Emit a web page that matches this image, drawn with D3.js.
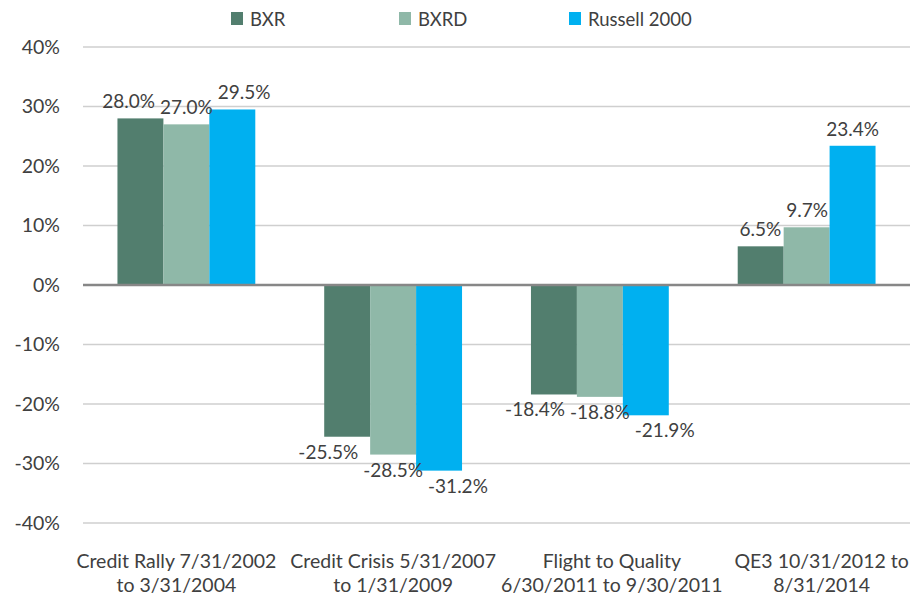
<!DOCTYPE html>
<html>
<head>
<meta charset="utf-8">
<script src="https://cdn.jsdelivr.net/npm/d3@7"></script>
<style>
  body { margin: 0; background: #fff; }
  text { font-family: Lato, "Open Sans", sans-serif; fill: #404040; }
</style>
</head>
<body>
<script>
// periods on the x axis (two lines each)
var categories = [
    ["Credit Rally 7/31/2002", "to 3/31/2004"],
    ["Credit Crisis 5/31/2007", "to 1/31/2009"],
    ["Flight to Quality", "6/30/2011 to 9/30/2011"],
    ["QE3 10/31/2012 to", "8/31/2014"]
];
var seriesNames = ["BXR", "BXRD", "Russell 2000"];
var bxr     = [28.0, -25.5, -18.4, 6.5];
var bxrd    = [27.0, -28.5, -18.8, 9.7];
var russell = [29.5, -31.2, -21.9, 23.4];
var yTicks  = [-40, -30, -20, -10, 0, 10, 20, 30, 40];

var colors = ["#527e6e", "#8fb8a8", "#00b0f0"];
var values = [bxr, bxrd, russell];

var width = 917, height = 597;
var margin = {top: 47, right: 7, bottom: 74, left: 83};

var svg = d3.select("body").append("svg")
    .attr("width", width)
    .attr("height", height);

var x0 = d3.scaleBand()
    .domain(d3.range(categories.length))
    .range([margin.left, width - margin.right]);

var gap = x0.bandwidth() / 3;
var x1 = d3.scaleBand()
    .domain(d3.range(seriesNames.length))
    .range([gap / 2, x0.bandwidth() - gap / 2]);

var y = d3.scaleLinear()
    .domain([-40, 40])
    .range([height - margin.bottom, margin.top]);

// gridlines
svg.append("g")
    .selectAll("line")
    .data(yTicks.filter(function(d){ return d !== 0; }))
    .enter()
    .append("line")
    .attr("x1", margin.left)
    .attr("x2", width - margin.right)
    .attr("y1", function(d){ return y(d); })
    .attr("y2", function(d){ return y(d); })
    .attr("stroke", "#cfcfcf")
    .attr("stroke-width", 1.5);

// y tick labels
svg.append("g")
    .selectAll("text")
    .data(yTicks)
    .enter()
    .append("text")
    .attr("x", 60)
    .attr("y", function(d){ return y(d); })
    .attr("dy", "0.35em")
    .attr("text-anchor", "end")
    .style("font-size", "19.5px")
    .text(function(d){ return d + "%"; });

// bars
var groups = svg.append("g")
    .selectAll("g")
    .data(categories)
    .enter()
    .append("g")
    .attr("transform", function(d, i){ return "translate(" + x0(i) + ",0)"; });

groups.selectAll("rect")
    .data(function(d, i){ return values.map(function(s, j){ return {s: j, v: s[i]}; }); })
    .enter()
    .append("rect")
    .attr("x", function(d){ return x1(d.s); })
    .attr("width", x1.bandwidth())
    .attr("y", function(d){ return d.v >= 0 ? y(d.v) : y(0); })
    .attr("height", function(d){ return Math.abs(y(d.v) - y(0)); })
    .attr("fill", function(d){ return colors[d.s]; });

// zero line
svg.append("line")
    .attr("x1", margin.left)
    .attr("x2", width - margin.right)
    .attr("y1", y(0))
    .attr("y2", y(0))
    .attr("stroke", "#878787")
    .attr("stroke-width", 2.5);

// data labels, pushed apart sideways when they collide (like Excel does)
groups.each(function(d, i){
    var g = d3.select(this);
    var labels = values.map(function(s, j){
        var v = s[i];
        var yy = v >= 0 ? y(v) - 10 : y(v) + 22;
        var t = g.append("text")
            .attr("text-anchor", "middle")
            .style("font-size", "19px")
            .attr("y", yy)
            .text(v.toFixed(1) + "%");
        return {t: t, cx: x1(j) + x1.bandwidth() / 2, w: t.node().getComputedTextLength(), yy: yy};
    });
    for (var k = 0; k < 10; k++) {
        for (var a = 0; a < labels.length - 1; a++) {
            var p = labels[a], q = labels[a + 1];
            var over = (p.cx + p.w / 2 + 5) - (q.cx - q.w / 2);
            if (over > 0 && Math.abs(p.yy - q.yy) < 22) {
                p.cx -= over / 2;
                q.cx += over / 2;
            }
        }
    }
    labels.forEach(function(l){ l.t.attr("x", l.cx); });
});

// category labels (Excel nudges them a little off the band centre)
var catShift = [-10, 0, 12, 15];
var cat = svg.append("g")
    .selectAll("text")
    .data(categories)
    .enter()
    .append("text")
    .attr("text-anchor", "middle")
    .attr("x", function(d, i){ return x0(i) + x0.bandwidth() / 2 + catShift[i]; })
    .attr("y", 568)
    .style("font-size", "19.5px");
cat.selectAll("tspan")
    .data(function(d){ return d; })
    .enter()
    .append("tspan")
    .attr("x", function(){ return d3.select(this.parentNode).attr("x"); })
    .attr("dy", function(d, i){ return i ? 24 : 0; })
    .text(function(d){ return d; });

// legend
var legendX = [231, 399, 569];
var legend = svg.append("g")
    .selectAll("g")
    .data(seriesNames)
    .enter()
    .append("g")
    .attr("transform", function(d, i){ return "translate(" + legendX[i] + ",12)"; });
legend.append("rect")
    .attr("width", 12)
    .attr("height", 13)
    .attr("fill", function(d, i){ return colors[i]; });
legend.append("text")
    .attr("x", 19)
    .attr("y", 13.5)
    .style("font-size", "18.5px")
    .text(function(d){ return d; });
</script>
</body>
</html>
